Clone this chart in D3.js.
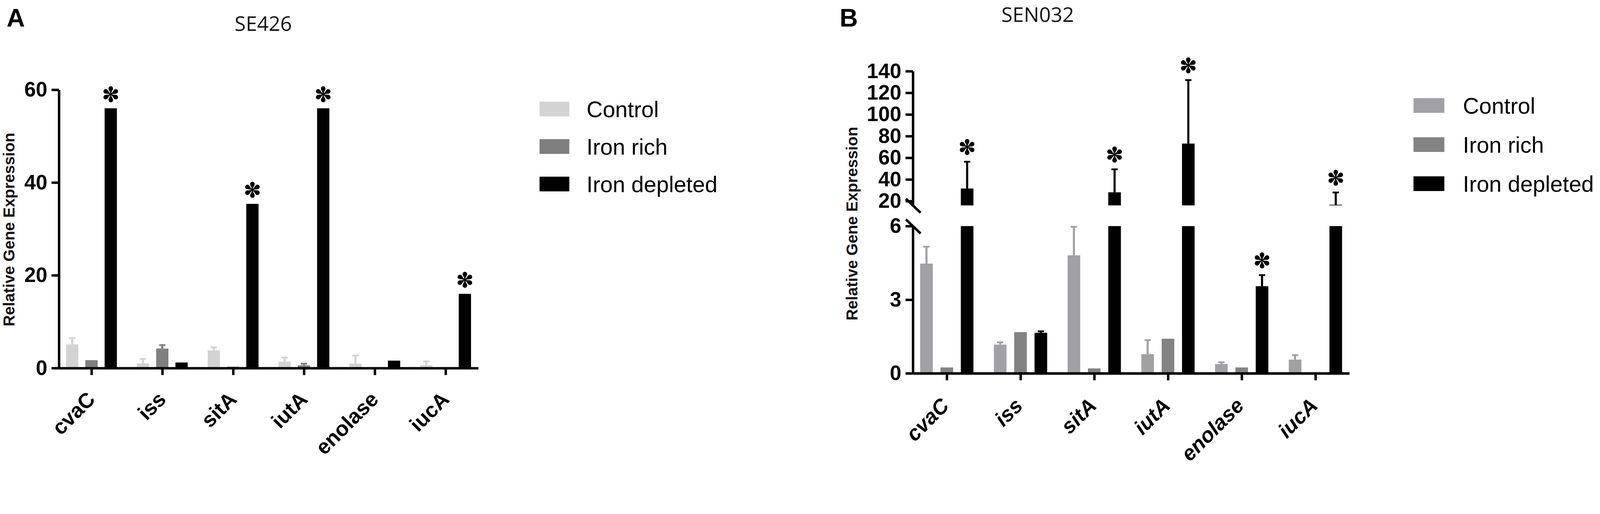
<!DOCTYPE html>
<html>
<head>
<meta charset="utf-8">
<script src="https://cdn.jsdelivr.net/npm/d3@7"></script>
<style>
html, body { margin: 0; padding: 0; background: #fff; overflow: hidden; }
svg { display: block; width: 100vw; height: 100vh; }
</style>
</head>
<body>
<svg></svg>
<script>
const width = 4564;
const height = 1316;

const genes = ["cvaC", "iss", "sitA", "iutA", "enolase", "iucA"];
const seriesNames = ["Control", "Iron rich", "Iron depleted"];

// SE426 (panel A)
const se426Control = [5.1, 1.0, 3.8, 1.4, 0.95, 0.6];
const se426ControlErr = [1.5, 1.1, 0.8, 1.0, 1.9, 1.0];
const se426Rich = [1.7, 4.2, 0.3, 0.6, 0.12, 0.1];
const se426RichErr = [0, 0.9, 0, 0.5, 0, 0];
const se426Depleted = [56, 1.2, 35.4, 56, 1.6, 16];
const se426DepletedErr = [0, 0, 0, 0, 0, 0];
const se426Signif = [true, false, true, true, false, true];
const se426Ticks = [0, 20, 40, 60];

// SEN032 (panel B), broken y axis
const sen032Control = [4.47, 1.17, 4.81, 0.78, 0.38, 0.56];
const sen032ControlErr = [0.72, 0.12, 1.19, 0.6, 0.1, 0.21];
const sen032Rich = [0.24, 1.68, 0.2, 1.41, 0.24, 0.03];
const sen032RichErr = [0, 0, 0, 0, 0, 0];
const sen032Depleted = [31.6, 1.65, 28.1, 73.1, 3.55, 16.6];
const sen032DepletedErr = [25.4, 0.09, 21.9, 59.3, 0.48, 12];
const sen032Signif = [true, false, true, true, true, true];
const sen032TicksLow = [0, 3, 6];
const sen032TicksHigh = [20, 40, 60, 80, 100, 120, 140];

const font = "'Liberation Sans', Arial, sans-serif";

// the svg scales to whatever the window is, pinned to the top
let svg = d3.select("svg")
    .attr("viewBox", `0 0 ${width} ${height}`)
    .attr("preserveAspectRatio", "xMidYMin meet");

svg.append("rect").attr("width", width).attr("height", height).attr("fill", "#fff");

// asterisk with six teardrop petals
const petal = "M-1.5,-3 C-2,-8 -6.5,-12 -6.5,-16.5 A6.5,6.5 0 0 1 6.5,-16.5 C6.5,-12 2,-8 1.5,-3 Z";

function drawStar(g, cx, cy) {
    let s = g.append("g").attr("transform", `translate(${cx},${cy})`);
    for (let a = 0; a < 360; a += 60) {
        s.append("path").attr("d", petal).attr("transform", `rotate(${a})`).attr("fill", "#000");
    }
    s.append("circle").attr("r", 3.5).attr("fill", "#000");
}

function drawPanel(p) {
    const g = svg.append("g");

    const x = d3.scalePoint()
        .domain(genes)
        .range([p.axisX, p.axisEnd])
        .padding(0.46);

    const gap = 1 - p.barW / p.barStep;
    const xBar = d3.scaleBand()
        .domain(seriesNames)
        .range([-1.5 * p.barStep, 1.5 * p.barStep])
        .paddingInner(gap)
        .paddingOuter(gap / 2);

    const segs = p.segments.map(s => Object.assign({}, s, {
        y: d3.scaleLinear().domain(s.domain).range(s.range)
    }));

    // one row per bar
    let rows = [];
    genes.forEach((gene, i) => {
        p.series.forEach((s, j) => {
            rows.push({ gene: gene, name: seriesNames[j], value: s.values[i], err: s.err[i],
                color: p.colors[j], star: j === 2 && p.signif[i] });
        });
    });
    const cx = d => x(d.gene) + xBar(d.name) + xBar.bandwidth() / 2;

    segs.forEach(seg => {
        const [lo, hi] = seg.domain;

        g.selectAll(null)
            .data(rows.filter(d => d.value > lo))
            .enter()
            .append("rect")
            .attr("x", d => x(d.gene) + xBar(d.name))
            .attr("width", xBar.bandwidth())
            .attr("y", d => seg.y(Math.min(d.value, hi)))
            .attr("height", d => seg.y(lo) - seg.y(Math.min(d.value, hi)))
            .attr("fill", d => d.color);

        const errs = rows.filter(d => d.err > 0 && d.value + d.err > lo && d.value < hi);
        g.selectAll(null)
            .data(errs)
            .enter()
            .append("line")
            .attr("x1", cx).attr("x2", cx)
            .attr("y1", d => seg.y(Math.max(d.value, lo)))
            .attr("y2", d => seg.y(Math.min(d.value + d.err, hi)))
            .attr("stroke", d => d.color)
            .attr("stroke-width", 6);

        g.selectAll(null)
            .data(errs.filter(d => d.value + d.err <= hi))
            .enter()
            .append("line")
            .attr("x1", d => cx(d) - 9).attr("x2", d => cx(d) + 9)
            .attr("y1", d => seg.y(d.value + d.err) + 2)
            .attr("y2", d => seg.y(d.value + d.err) + 2)
            .attr("stroke", d => d.color)
            .attr("stroke-width", 5);

        // y axis segment
        let ax = g.append("g")
            .attr("transform", `translate(${p.axisX},0)`)
            .call(d3.axisLeft(seg.y).tickValues(seg.ticks).tickFormat(d3.format("d"))
                .tickSize(21).tickSizeOuter(0).tickPadding(12));
        ax.select(".domain").attr("stroke", "#000").attr("stroke-width", 7);
        ax.selectAll(".tick line").attr("stroke", "#000").attr("stroke-width", 7);
        ax.selectAll(".tick text")
            .attr("font-family", font)
            .attr("font-weight", "bold")
            .attr("font-size", 59)
            .attr("fill", "#000");
    });

    // break marks between segments
    if (segs.length > 1) {
        [segs[0].range[1], segs[1].range[0]].forEach(yy => {
            g.append("line")
                .attr("x1", p.axisX - 20).attr("y1", yy - 19)
                .attr("x2", p.axisX + 22).attr("y2", yy + 21)
                .attr("stroke", "#000").attr("stroke-width", 7);
        });
    }

    // significance asterisks
    rows.filter(d => d.star).forEach(d => {
        const top = d.value + d.err;
        let seg = segs.find(s => top >= s.domain[0] && top <= s.domain[1]) || segs[segs.length - 1];
        const yTop = seg.y(Math.min(top, seg.domain[1]));
        drawStar(g, cx(d), yTop - 40);
    });

    // x axis
    const baseY = segs[0].range[0];
    let xa = g.append("g")
        .attr("transform", `translate(0,${baseY})`)
        .call(d3.axisBottom(x).tickSize(20).tickSizeOuter(0));
    xa.select(".domain").attr("stroke", "#000").attr("stroke-width", 7);
    xa.selectAll(".tick line").attr("stroke", "#000").attr("stroke-width", 7);
    xa.selectAll(".tick text").remove();

    g.selectAll(null)
        .data(genes)
        .enter()
        .append("text")
        .attr("transform", d => `translate(${x(d) + p.labelDx},${baseY + p.labelDy}) rotate(-45)`)
        .attr("text-anchor", "end")
        .attr("font-family", font)
        .attr("font-weight", "bold")
        .attr("font-style", p.italic ? "italic" : "normal")
        .attr("font-size", 60)
        .text(d => d);

    // axis title
    g.append("text")
        .attr("transform", `translate(${p.yLabelX},${p.yLabelY}) rotate(-90)`)
        .attr("text-anchor", "middle")
        .attr("font-family", font)
        .attr("font-weight", "bold")
        .attr("font-size", 45)
        .attr("fill", "#111")
        .text("Relative Gene Expression");

    // chart title and panel letter
    g.append("text")
        .attr("x", p.titleX).attr("y", p.titleY)
        .attr("text-anchor", "middle")
        .attr("font-family", "'Open Sans', sans-serif")
        .attr("font-size", 58)
        .attr("fill", "#111")
        .text(p.title);

    g.append("text")
        .attr("x", p.letterX).attr("y", 76)
        .attr("font-family", font)
        .attr("font-weight", "bold")
        .attr("font-size", 72)
        .text(p.letter);

    // legend
    let lg = g.selectAll(".legend")
        .data(seriesNames)
        .enter()
        .append("g")
        .attr("transform", (d, i) => `translate(${p.legendX},${p.legendY + i * p.legendStep})`);
    lg.append("rect")
        .attr("x", 0).attr("y", -21)
        .attr("width", p.legendW).attr("height", 42)
        .attr("fill", (d, i) => p.colors[i]);
    lg.append("text")
        .attr("x", p.legendTextX)
        .attr("dy", "0.36em")
        .attr("font-family", font)
        .attr("font-size", 64)
        .attr("fill", "#000")
        .text(d => d);
}

drawPanel({
    letter: "A", letterX: 19,
    title: "SE426", titleX: 751, titleY: 88,
    axisX: 168, axisEnd: 1364,
    segments: [{ domain: [0, 60], range: [1050, 256], ticks: se426Ticks }],
    series: [
        { values: se426Control, err: se426ControlErr },
        { values: se426Rich, err: se426RichErr },
        { values: se426Depleted, err: se426DepletedErr }
    ],
    signif: se426Signif,
    colors: ["#d3d3d3", "#7f7f7f", "#000000"],
    barStep: 55, barW: 35,
    labelDx: 14, labelDy: 93, italic: false,
    yLabelX: 41, yLabelY: 655,
    legendX: 1539, legendY: 311, legendStep: 107, legendW: 85, legendTextX: 134
});

drawPanel({
    letter: "B", letterX: 2395,
    title: "SEN032", titleX: 2960, titleY: 62,
    axisX: 2604, axisEnd: 3849,
    segments: [
        { domain: [0, 6], range: [1065, 645], ticks: sen032TicksLow },
        { domain: [16, 140], range: [586, 203], ticks: sen032TicksHigh }
    ],
    series: [
        { values: sen032Control, err: sen032ControlErr },
        { values: sen032Rich, err: sen032RichErr },
        { values: sen032Depleted, err: sen032DepletedErr }
    ],
    signif: sen032Signif,
    colors: ["#a1a1a5", "#838383", "#000000"],
    barStep: 58, barW: 36,
    labelDx: 10, labelDy: 96, italic: true,
    yLabelX: 2446, yLabelY: 638,
    legendX: 4032, legendY: 301, legendStep: 111.5, legendW: 88, legendTextX: 141
});
</script>
</body>
</html>
